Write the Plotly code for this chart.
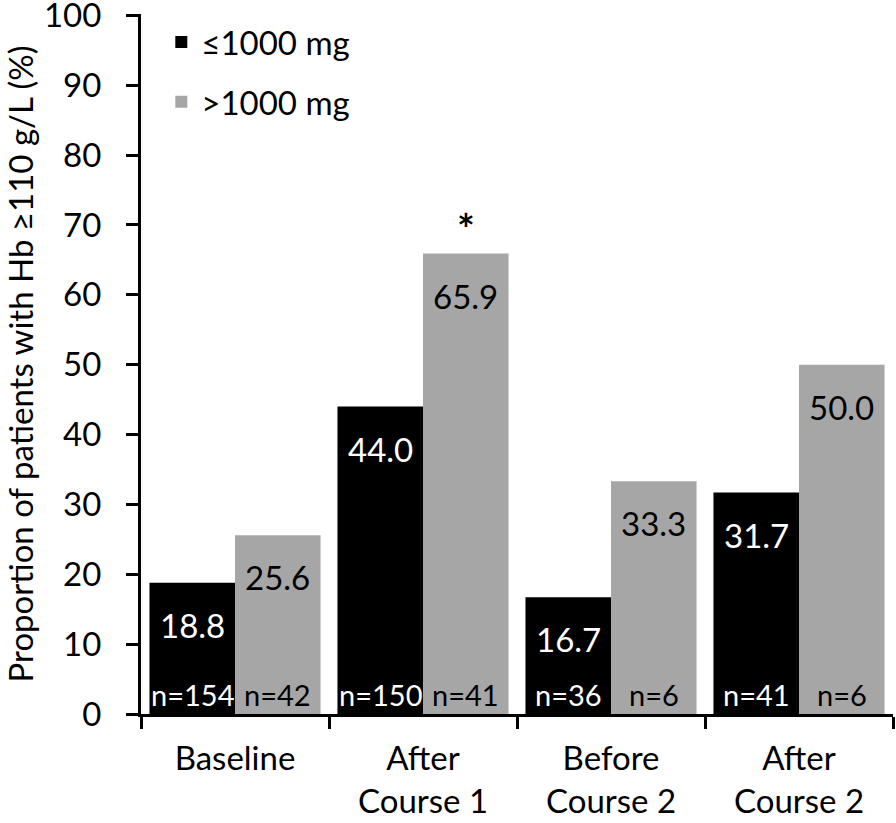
import plotly.graph_objects as go

# data
categories = ["Baseline", "After<br>Course 1", "Before<br>Course 2", "After<br>Course 2"]
low_dose = [18.8, 44.0, 16.7, 31.7]       # <=1000 mg
high_dose = [25.6, 65.9, 33.3, 50.0]      # >1000 mg
low_n = [154, 150, 36, 41]
high_n = [42, 41, 6, 6]
star_on_high = [False, True, False, False]
y_ticks = [0, 10, 20, 30, 40, 50, 60, 70, 80, 90, 100]

FONT = "Lato"
FS = 33
BLACK = "#000000"
GREY = "#a6a6a6"
GAP = 0.09
OFF = (1 - GAP) / 4
xs = list(range(len(categories)))

fig = go.Figure()
fig.add_trace(go.Bar(x=xs, y=low_dose, name="\u22641000 mg", marker_color=BLACK,
                     marker_line_width=0, legendgroup="a"))
fig.add_trace(go.Bar(x=xs, y=high_dose, name=">1000 mg", marker_color=GREY,
                     marker_line_width=0, legendgroup="b"))

ann = []
for i in xs:
    for off, val, n, col in [(-OFF, low_dose[i], low_n[i], "white"),
                             (OFF, high_dose[i], high_n[i], "black")]:
        ann.append(dict(x=i + off, y=val, text=f"{val:.1f}", showarrow=False,
                        yanchor="middle", yshift=-42,
                        font=dict(family=FONT, size=FS, color=col)))
        ann.append(dict(x=i + off, y=0, text=f"n={n}", showarrow=False,
                        yanchor="bottom", yshift=0,
                        font=dict(family=FONT, size=29, color=col)))
    if star_on_high[i]:
        ann.append(dict(x=i + OFF, y=high_dose[i], text="<b>*</b>", showarrow=False,
                        yanchor="middle", yshift=25,
                        font=dict(family=FONT, size=42, color="black")))

fig.update_layout(
    width=896, height=823,
    margin=dict(l=141, r=3, t=14, b=109, autoexpand=False),
    plot_bgcolor="white", paper_bgcolor="white",
    barmode="group", bargap=GAP, bargroupgap=0,
    font=dict(family=FONT, size=FS, color="black"),
    showlegend=True,
    legend=dict(x=0.027, y=1.0, xanchor="left", yanchor="top",
                font=dict(family=FONT, size=FS), tracegroupgap=14,
                bgcolor="rgba(0,0,0,0)"),
    annotations=ann,
    xaxis=dict(range=[-0.5, len(categories) - 0.5], automargin=False,
               tickvals=[i - 0.5 for i in range(len(categories) + 1)],
               ticktext=[""] * (len(categories) + 1),
               ticks="outside", ticklen=12, tickwidth=3, tickcolor="black",
               showline=True, linecolor="black", linewidth=3,
               showgrid=False, zeroline=False),
    xaxis2=dict(overlaying="x", anchor="y", side="bottom", automargin=False,
                range=[-0.5, len(categories) - 0.5],
                tickvals=xs, ticktext=categories, ticks="",
                ticklabelstandoff=22,
                showline=False, showgrid=False, zeroline=False,
                tickfont=dict(family=FONT, size=FS)),
    yaxis=dict(range=[0, 100.2], tickvals=y_ticks, ticks="outside", ticklen=12,
               tickwidth=3, tickcolor="black", automargin=False,
               showline=True, linecolor="black", linewidth=3,
               showgrid=False, zeroline=False, ticklabelstandoff=18,
               ticklabeloverflow="allow",
               tickfont=dict(family=FONT, size=FS),
               title=dict(text="Proportion of patients with Hb \u2265110 g/L (%)",
                          font=dict(family=FONT, size=FS), standoff=30)),
)
# invisible trace so xaxis2 renders its labels
fig.add_trace(go.Scatter(x=[0], y=[0], xaxis="x2", mode="markers",
                         marker=dict(opacity=0), showlegend=False, hoverinfo="skip"))

# drop the default 8px body margin so the figure sits at the page corner
fig.write_html("out.html", config={"displayModeBar": False},
               post_script="document.body.style.margin='0';")
